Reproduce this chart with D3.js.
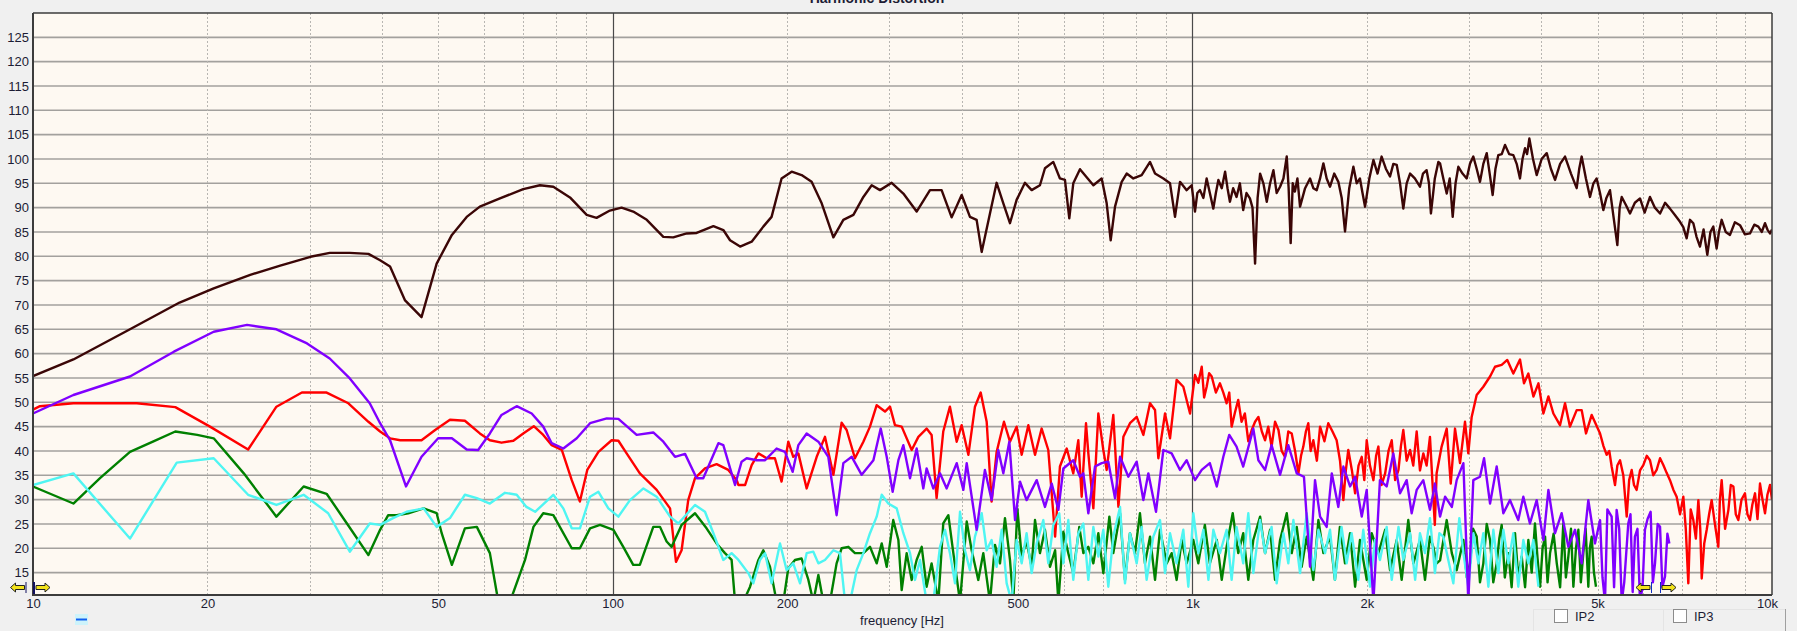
<!DOCTYPE html>
<html><head><meta charset="utf-8">
<script src="https://cdn.jsdelivr.net/npm/d3@7"></script>
<style>
html,body{margin:0;padding:0;background:#f0f0f0;}
svg{display:block;font-family:"Liberation Sans",Arial,sans-serif;}
</style></head>
<body>
<svg id="chart" width="1797" height="631"></svg>
<script>
// ---------- data (frequency [Hz], level [dB]) ----------
const yTicks = [15,20,25,30,35,40,45,50,55,60,65,70,75,80,85,90,95,100,105,110,115,120,125];
const xTickValues = [10,20,50,100,200,500,1000,2000,5000,10000];
const xTickLabels = ["10","20","50","100","200","500","1k","2k","5k","10k"];
const xGridMinor = [20,30,40,50,60,70,80,90,200,300,400,500,600,700,800,900,2000,3000,4000,5000,6000,7000,8000,9000];
const xGridMajor = [100,1000];

const fundamental = [[10,55.4],[11.74,58.8],[14.7,65],[17.9,70.5],[20.5,73.4],[23.7,76.2],[26.7,78.1],[30.1,79.9],[32.5,80.7],[35.2,80.7],[37.9,80.5],[39.7,79.2],[41.3,77.9],[43.8,71],[46.8,67.5],[49.7,78.5],[52.8,84.4],[56,88.1],[59,90.2],[63.9,91.9],[70.1,93.8],[74.9,94.6],[79,94.3],[84.4,92.1],[90.2,88.5],[93.8,87.9],[98.9,89.4],[103.6,90],[108.5,89.2],[114.5,87.5],[122.3,84],[127.2,83.9],[134.2,84.7],[139.6,84.8],[149.2,86.2],[155.2,85.4],[159.4,83.3],[165.9,82],[173.7,83],[181.9,86.1],[188,88.1],[195.6,96],[203.6,97.4],[211.8,96.7],[220.4,95.3],[229.4,90.9],[240.3,83.9],[250,87.5],[260.2,88.5],[270.7,92.2],[279.8,94.6],[289.2,93.6],[302.9,95.1],[317.3,92.9],[334.5,89.2],[352.7,93.6],[369.4,93.6],[384.4,88],[400,92.6],[413.4,88.1],[424.5,87.5],[433.1,80.9],[447.6,88.8],[459.6,95.1],[472,90.9],[484.6,86.8],[497.6,91.6],[514.3,95.1],[528.2,93.6],[545.9,94.6],[556.9,98.1],[575.6,99.4],[591,96],[602.9,95.7],[613.4,87.8],[623.2,95],[640,97.9],[674.9,94.6],[697.6,96],[711.6,90.9],[723,83.3],[735.6,90.2],[755.3,95.3],[770.4,97],[791,96],[817.7,96.7],[845.3,99.4],[862.3,97],[891.3,96],[915.2,95],[933.5,88.1],[952.2,95.3],[977.7,93.6],[997.3,94.6],[1010.6,89.2],[1020,93],[1030.9,93.6],[1045,92],[1058.5,96],[1072,93],[1087,89.8],[1098,93],[1109,95.7],[1124,94],[1139,97.4],[1150,94],[1161,91.2],[1176,94],[1192,92.2],[1208,95],[1224,89.5],[1240,93],[1257,91.9],[1270,90],[1283,78.5],[1296,92],[1309,97],[1326,95],[1344,91.2],[1362,95],[1380,97.7],[1398,93],[1417,94.3],[1436,96],[1455,100.5],[1466,94],[1478,82.7],[1490,95],[1503,93.3],[1518,96],[1534,90.2],[1565,94],[1596,96],[1617,94],[1639,93.6],[1661,96],[1683,99.1],[1705,96],[1728,94.3],[1757,97],[1786,95.3],[1810,92],[1834,85.1],[1865,94],[1896,98.4],[1921,95],[1946,96],[1966,93],[1986,90.2],[2020,96],[2053,99.8],[2087,97],[2121,100.5],[2157,98],[2193,96.4],[2222,99],[2252,98.8],[2282,95],[2312,89.8],[2343,95],[2375,97],[2420,96],[2470,94.3],[2500,97],[2536,97.7],[2560,95],[2580,88.8],[2620,96],[2657,99.4],[2675,99.1],[2710,96],[2747,92.9],[2780,96],[2813,88.1],[2845,95],[2877,98.4],[2925,97],[2974,96],[3013,99],[3053,100.5],[3094,98],[3135,95.3],[3177,99],[3220,101.2],[3258,97],[3297,92.6],[3334,98],[3372,100.8],[3418,101],[3463,102.9],[3520,101],[3579,100.8],[3627,99],[3675,96],[3712,100],[3749,102.2],[3780,101],[3814,104.2],[3870,100],[3927,96.7],[4005,100],[4087,101.2],[4155,98],[4224,95.7],[4310,99],[4395,100.5],[4500,97],[4603,94],[4650,98],[4695,100.5],[4775,96],[4853,92.2],[4920,95],[4983,96],[5050,93],[5117,89.5],[5180,92],[5254,93.6],[5330,88],[5410,82.3],[5460,90],[5505,92.2],[5600,90.5],[5689,88.8],[5800,91],[5920,91.9],[6030,89],[6159,92.2],[6280,90],[6410,88.8],[6540,91],[6668,89.8],[6800,88.5],[6939,87.1],[7030,86],[7125,83.7],[7220,87.5],[7316,86.8],[7410,84],[7512,82],[7620,85.5],[7734,80.3],[7830,85],[7921,86.1],[8025,81.6],[8100,85],[8188,87.5],[8320,85],[8463,84.4],[8630,87],[8806,86.4],[8980,84.5],[9163,84.7],[9320,86.5],[9472,86.1],[9600,85],[9726,86.8],[9820,85.5],[9920,84.7],[10000,85.5]];

const purpleHarmonic = [[10,47.7],[11.74,51.5],[14.7,55.3],[17.5,60.4],[20.5,64.5],[23.4,65.9],[26.3,65],[29.7,62.1],[32.5,59],[35.2,54.9],[38.1,49.8],[39.7,45.7],[41.3,42.2],[44,32.7],[46.8,38.8],[50,42.6],[52.8,42.6],[56,40.3],[58.6,40.2],[61.4,43.6],[64.3,47.4],[68.3,49.2],[72.5,47.7],[75.9,45],[78.5,41.6],[82.2,40.5],[86.7,42.6],[91.4,45.7],[97.7,46.7],[102.3,46.6],[110,43.3],[117.5,43.8],[122.3,41.9],[128.1,38.8],[133.3,39.4],[139.6,34.4],[143.3,34.4],[152.2,41.6],[155.2,41.2],[162.6,33],[166.9,37.8],[170.3,38.5],[177.2,38.1],[183.2,38.1],[191.8,40.5],[198.3,39.8],[204.4,35.7],[209.1,41.2],[216.1,43.6],[226.4,41.9],[235.5,38.8],[243.4,26.8],[250,37.5],[258.5,38.8],[268.9,35.1],[281.7,38.1],[290,44.6],[297,38.8],[304.1,31.6],[311.1,38.1],[317.3,41.2],[325.8,34.4],[334.5,40.5],[343.5,32.3],[348,36.4],[357.4,32.3],[367,35.4],[376.9,32.3],[392.2,37.5],[402.7,32],[408.1,37.5],[424.5,23.8],[438.7,36.1],[450.5,29.9],[462.6,40.2],[472,35.4],[483.4,41.9],[494.5,25.8],[504.4,33.7],[517.7,29.9],[538.9,34],[556.9,28.5],[572,33.3],[587.4,27.9],[599.1,36.4],[623.2,38.1],[640,34.7],[648.6,35.4],[661.6,27.2],[679.4,36.8],[697.6,37.5],[716.2,37.8],[735.6,30.3],[750.4,38.8],[775.6,34.7],[801.7,37.8],[823.2,29.9],[839.7,35.4],[865.6,27.5],[891.3,40.2],[921.1,39.5],[952.2,36.1],[977.7,38.1],[1010.6,34],[1038,36.1],[1072,37.5],[1102,32.7],[1131,38.8],[1158,43.3],[1192,40.9],[1224,36.8],[1274,44.6],[1300,38.1],[1335,36.1],[1370,41.2],[1417,35.1],[1464,41.2],[1514,35.4],[1558,34.7],[1596,16.2],[1628,34],[1661,26.5],[1705,24.4],[1740,35.4],[1786,28.5],[1822,36.8],[1871,32.7],[1909,34.7],[1960,26.5],[1999,32],[2053,9],[2107,34],[2164,32.7],[2222,39.5],[2282,31.3],[2343,34],[2390,27.2],[2438,32],[2503,34],[2570,27.9],[2604,31.3],[2621,33.3],[2675,26.5],[2729,30.6],[2803,28.5],[2858,34],[2935,37.5],[2993,9],[3053,34],[3135,34.7],[3186,38.5],[3263,29.2],[3350,36.8],[3440,27.2],[3532,29.9],[3650,25.8],[3724,30.6],[3823,25.1],[3927,29.9],[4033,21.7],[4114,32],[4224,23.1],[4336,27.2],[4453,20.3],[4573,23.8],[4695,16.9],[4821,29.9],[4950,21],[5051,25.8],[5100,14],[5151,9],[5200,28],[5289,26.5],[5340,12],[5395,27.9],[5450,24],[5505,9],[5560,13],[5650,25.1],[5700,27],[5750,11],[5801,22.4],[5860,24],[5920,9],[5980,12],[6037,23.8],[6100,26],[6175,27.5],[6230,13],[6283,16.9],[6350,25],[6410,24.4],[6470,12],[6538,14.2],[6600,23],[6651,21]];

const redHarmonic = [[10,48.5],[10.28,49.2],[11.74,49.8],[15.1,49.8],[17.6,49],[20.2,45],[23.5,40.3],[26.3,49.1],[29.1,52],[32.1,52],[35,49.8],[37.9,46],[39.7,44],[41.3,42.6],[43,42.2],[46.8,42.2],[49.4,44.3],[52.4,46.4],[55.6,46.2],[59,43.6],[61.4,42.2],[64.3,41.7],[67.4,42.1],[70.1,43.6],[73.1,45.1],[75.9,43.3],[78.5,41.2],[81.7,40.2],[85,34],[87.8,29.6],[90.4,36.1],[94.5,39.8],[99.6,42.2],[102.3,42.1],[105.7,39.5],[111.4,35.4],[119.1,32],[125.6,28.2],[128.6,17.2],[131.5,19.6],[135,29.9],[138.7,34.4],[144.3,36.4],[151.1,37.3],[158.3,36.1],[163.7,34],[164.8,33],[169.2,33],[173.7,37.1],[178.4,39.5],[184.4,38.5],[190.5,38.5],[195.6,33.7],[200.9,41.9],[204.9,38.8],[209.1,39.5],[216.1,32.3],[224.9,38.8],[232.4,42.9],[240.3,35.1],[248.3,45.8],[253.3,44.3],[261.8,38.5],[270.7,41.9],[277.9,45],[285.4,49.4],[295,48.1],[300.9,49.1],[306.9,45.3],[315.2,45],[328,40.2],[336.8,42.9],[348,44.6],[355,43.3],[362.1,30.3],[371.8,44],[381.8,49.1],[392.2,41.9],[400,45.3],[410.8,39.2],[421.7,49.1],[431.4,52],[441.8,46],[450.5,29.6],[459.6,39.8],[473.2,46],[484.6,41.9],[497.6,45],[507.7,39.2],[521.3,45.3],[535.3,39.2],[549.6,44.6],[564.3,40.2],[579.8,22.4],[591,36.8],[607.2,40.5],[623.2,35.4],[635.8,42.2],[644.3,30.6],[655.5,45.7],[661.6,39.5],[674.9,28.2],[688.4,47.7],[702.2,40.2],[711.6,36.1],[730.6,47.4],[745.6,28.5],[760.4,42.9],[780.6,45.7],[801.7,47],[823.2,43.3],[845.3,49.8],[862.3,48.4],[873.7,38.5],[897.2,47.7],[915.2,42.6],[939.6,54.6],[964.8,53.2],[990.9,47.7],[1010.6,55.6],[1024,54],[1038,57.3],[1048,51],[1058.5,53.2],[1069,56],[1080,55.3],[1098,52],[1116,53.9],[1131,52],[1146,49.8],[1158,52],[1169,45],[1185,48],[1200,50.5],[1216,46],[1232,47.7],[1249,42],[1266,44.3],[1283,46],[1300,47],[1318,44],[1335,42.2],[1352,45],[1370,40.9],[1389,46],[1408,44.3],[1426,40],[1445,38.8],[1464,44],[1484,43.6],[1504,40],[1524,35.4],[1540,39],[1554,40.9],[1570,44],[1585,45.7],[1600,40],[1617,42.2],[1640,38],[1661,45],[1690,42],[1716,45.7],[1745,44],[1774,42.2],[1798,38],[1822,29.9],[1840,36],[1858,40.2],[1885,36],[1909,31.3],[1935,37],[1960,38.8],[1980,34],[1999,42.2],[2025,37],[2053,34],[2075,39],[2094,40.9],[2120,33],[2151,35.4],[2180,40],[2208,42.2],[2238,34],[2268,36.1],[2290,41],[2312,44.3],[2343,38],[2375,40.2],[2405,37],[2438,44],[2470,36],[2503,39.5],[2536,37],[2570,42.9],[2620,24.8],[2639,35.4],[2692,40.9],[2747,44.6],[2791,33.3],[2839,44.6],[2896,37.5],[2954,46],[2993,39.5],[3033,47],[3094,51.5],[3177,53.2],[3263,55.3],[3328,57.3],[3417,57.7],[3494,58.7],[3579,55.9],[3675,58.8],[3734,53.9],[3799,55.9],[3876,51.2],[3954,53.9],[4033,47.7],[4114,51.2],[4196,47.7],[4308,45.3],[4395,49.8],[4482,45],[4603,48.4],[4695,48.4],[4777,43.6],[4886,47.4],[5051,43.6],[5120,41],[5185,39.2],[5240,40],[5289,36.8],[5360,33],[5410,37],[5468,38.1],[5540,35],[5615,26.5],[5670,34],[5727,36.1],[5780,33],[5841,32],[5920,36],[5998,37.1],[6080,39],[6159,38.1],[6240,35],[6324,36.1],[6410,38.5],[6494,37.1],[6580,35.5],[6668,34],[6760,32],[6847,30.6],[6940,27],[7031,30.6],[7100,24],[7172,12.8],[7240,28],[7316,25.8],[7390,22],[7464,29.9],[7520,24],[7564,13.8],[7640,21],[7715,23.8],[7790,27],[7869,29.9],[7970,25],[8080,20.3],[8130,30],[8188,34],[8300,24],[8410,27.9],[8490,33],[8578,32.7],[8660,27],[8748,25.8],[8860,30],[8982,31.3],[9070,27],[9163,25.8],[9250,29],[9348,31.3],[9440,26],[9535,33.3],[9630,30],[9726,27.2],[9820,31],[9920,33],[10000,30]];

const greenHarmonic = [[10,32.7],[11.74,29.2],[13.05,34.4],[14.7,39.8],[16.1,41.9],[17.6,44],[19.2,43.3],[20.5,42.6],[23.1,35.4],[26.3,26.5],[29.3,32.7],[32.1,31.2],[34.8,25.1],[37.9,18.6],[39.7,23.8],[41,26.8],[42.4,26.8],[44.4,27.2],[47.2,28.2],[49.7,27.2],[50.7,23.1],[52.8,16.6],[55.6,24.1],[58.3,24.4],[61.4,19],[63.5,9],[66.5,9],[70.6,17.6],[73,24.4],[75.9,27.2],[79,26.8],[85,20],[87.8,20],[91.4,24.1],[95.1,24.8],[100.3,23.8],[104.3,20.3],[108.5,16.6],[111.4,16.6],[117.5,24.4],[120.7,24.4],[123.9,21.4],[126.4,20.3],[131.5,24.8],[138.7,27.2],[145.2,24.1],[151.1,21],[156.2,19],[160.4,17.6],[162.6,9],[168,9],[172.6,12.1],[178.4,17.6],[181.9,19.6],[186.8,16.2],[191.8,9],[197,9],[200.9,15.9],[206.3,17.6],[211.8,17.9],[217.6,13.5],[221.9,9],[226.4,14.5],[230.9,9],[237.1,9],[243.4,16.9],[248.3,20],[255,20.3],[261.8,19],[270.7,19],[277.9,20.3],[285.4,16.9],[291.2,21],[297,16.2],[304.8,25.8],[311.1,21.7],[315.2,11.4],[321.5,19],[328,13.5],[334.5,17.6],[341.3,20.3],[348,12.1],[355,16.9],[364.6,9],[371.8,25.1],[379.4,26.8],[387,19],[397.4,9],[408.1,25.5],[416.2,19.6],[427.3,13.5],[435.9,19],[447.6,9],[456.6,20.7],[465.8,16.9],[475.1,26.2],[484.6,17.6],[491.1,9],[499,28.2],[507.7,18.3],[517.7,21.4],[528.2,16.2],[535.3,25.8],[545.9,19],[556.9,23.8],[568.1,16.2],[579.8,19.6],[587.4,9],[599.1,23.4],[611,19],[623.2,14.9],[638.3,24.4],[648.6,19],[661.6,20.3],[674.9,16.9],[688.4,23.1],[702.2,14.9],[719.2,26.5],[730.6,19],[750.4,27.2],[765.3,13.5],[780.6,23.1],[796.2,19],[812.2,27.2],[828.5,16.9],[845.3,22.4],[862.3,13.5],[879.5,23.8],[903.1,16.9],[921.1,19],[939.6,13.5],[958.6,21.7],[977.7,16.9],[1004,21.7],[1024,16.9],[1051,24.8],[1072,16.9],[1102,21.7],[1124,13.5],[1146,20.3],[1174,27.2],[1200,19],[1224,23.1],[1249,13.5],[1274,21.7],[1309,26.5],[1335,19],[1362,23.8],[1389,13.5],[1417,21.7],[1455,27.2],[1484,19],[1514,24.4],[1544,16.2],[1575,22.4],[1617,13.5],[1650,25.8],[1683,19],[1728,22.4],[1762,13.5],[1797,24.4],[1834,16.9],[1871,23.1],[1909,12.1],[1946,21.7],[1999,13.5],[2039,23.1],[2094,19],[2151,23.8],[2193,15.5],[2252,21.7],[2297,13.5],[2358,25.8],[2406,16.9],[2470,21.7],[2520,13.5],[2570,22.4],[2604,20.3],[2639,16.9],[2675,17.5],[2747,25.8],[2803,19],[2858,15.5],[2935,21.7],[2975,14],[3013,16.9],[3050,24],[3094,22.4],[3135,13],[3177,16.9],[3220,25],[3263,21.7],[3305,13],[3350,16.9],[3385,22],[3417,24.8],[3460,14],[3509,19],[3555,12],[3603,23.1],[3650,14],[3700,18.3],[3750,12],[3799,21.7],[3850,15],[3900,25.1],[3940,18],[3980,12.1],[4020,20],[4060,22.4],[4100,13],[4141,19],[4200,23],[4253,16.9],[4310,12],[4365,25.1],[4410,14],[4453,18.3],[4500,24],[4543,12.1],[4590,20],[4634,23.8],[4680,13],[4726,19],[4770,24],[4821,12.1],[4850,20],[4886,22.4],[4930,15],[4970,12.1]];

const cyanHarmonic = [[10,33],[11.74,35.4],[14.7,22],[17.7,37.6],[20.5,38.5],[23.5,31],[26.3,28.9],[29.3,31],[32.3,27.2],[35.2,19.3],[38.1,25.1],[39.7,24.8],[41.8,26.2],[44.1,27.5],[47.2,28.2],[49.7,24.4],[52.4,26.2],[55.6,31],[58.3,30.3],[61.4,29.2],[65.2,31.4],[68.3,31],[71,28.5],[73.5,27.5],[79,31],[82.2,28.2],[85,24.1],[87.8,24.1],[91.4,30.6],[94.5,31.6],[98.3,28.2],[102.3,26.5],[107.1,29.9],[113,32.3],[119.1,30.6],[125.6,26.5],[129.8,25.1],[138.7,28.9],[144.3,27.5],[149.2,23.1],[155.2,17.6],[160.4,19],[164.8,17.6],[171.4,14.9],[174.8,12.8],[179.5,17.6],[183.2,19],[188,12.8],[194.4,21],[199.6,15.5],[204.9,16.9],[210.5,12.8],[216.1,19],[221.9,19.3],[226.4,16.9],[232.4,17.6],[240.3,19.6],[246.7,19],[251.7,9],[256.7,9],[263.6,15.5],[270.7,19],[277.9,23.1],[285.4,26.5],[291.2,31],[298.9,29.2],[309,28.2],[317.3,23.1],[325.8,19],[332.3,13.5],[339,17.6],[348,9],[357.4,9],[367,20.3],[374.4,23.8],[381.8,19],[389.6,12.8],[397.4,27.5],[405.3,19.6],[413.4,15.5],[421.7,22.4],[433.1,27.2],[441.8,19.6],[450.5,21.7],[459.6,16.2],[468.9,23.8],[478.3,12.8],[487.9,9],[497.6,21.7],[507.7,16.9],[517.7,23.1],[528.2,14.9],[538.9,21],[553.3,25.8],[564.3,16.9],[575.6,24.8],[589.5,27.2],[599.1,16.9],[611,25.8],[623.2,13.5],[635.8,23.1],[648.6,25.1],[661.6,13.5],[674.9,24.4],[688.4,18.3],[702.2,23.8],[716.2,12.1],[730.6,22.4],[750.4,28.5],[765.3,12.8],[780.6,23.1],[801.7,16.9],[817.7,24.4],[834,13.5],[856.4,22.4],[879.5,25.8],[897.2,14.9],[915.2,23.1],[939.6,16.9],[964.8,23.8],[984.2,12.1],[1004,27.2],[1024,19],[1045,23.8],[1066,13.5],[1087,23.8],[1116,19],[1146,23.8],[1169,13.5],[1192,24.4],[1224,16.9],[1249,27.2],[1274,14.9],[1309,25.8],[1335,19],[1370,24.4],[1398,12.8],[1436,23.1],[1464,16.9],[1494,25.8],[1534,14.9],[1575,27.2],[1617,15.5],[1650,23.8],[1694,19],[1728,23.8],[1762,13.5],[1809,24.4],[1846,16.9],[1883,23.1],[1933,13.5],[1972,23.8],[2025,12.1],[2066,21.7],[2107,17.6],[2164,24.4],[2208,13.5],[2268,24.4],[2312,17.6],[2375,23.1],[2423,13.5],[2470,23.1],[2520,19],[2570,26.2],[2604,19],[2621,14.9],[2668,23.1],[2710,22.4],[2764,17.6],[2820,12.8],[2888,26.2],[2935,19],[2993,12.1],[3053,23.1],[3115,16.9],[3177,23.1],[3241,12.1],[3306,23.8],[3372,14.9],[3440,23.8],[3509,16.9],[3579,23.1],[3650,12.1],[3724,21.7],[3799,16.9],[3876,21.7],[3954,12.1]];

// draw order and colours
const seriesList = [
  {name:"fundamental", data:fundamental, color:"#3b0606"},
  {name:"red", data:redHarmonic, color:"#ff0000"},
  {name:"green", data:greenHarmonic, color:"#008000"},
  {name:"cyan", data:cyanHarmonic, color:"#4ff5f2"},
  {name:"purple", data:purpleHarmonic, color:"#8000ff"}
];

// ---------- layout ----------
const W = 1797, H = 631;
const L = 33, R = 1772, T = 13, B = 595;
const svg = d3.select("#chart");

svg.append("rect").attr("width", W).attr("height", H).attr("fill", "#f0f0f0");

const x = d3.scaleLog().domain([10, 10000]).range([L, R]);
const y = d3.scaleLinear().domain([10.4, 130]).range([B, T]);

svg.append("rect").attr("x", L).attr("y", T).attr("width", R - L).attr("height", B - T).attr("fill", "#fef9f2");

svg.append("g").selectAll("line").data(yTicks).join("line")
  .attr("x1", L).attr("x2", R)
  .attr("y1", d => y(d)).attr("y2", d => y(d))
  .attr("stroke", "#a3a19e").attr("stroke-width", 1.6);

svg.append("g").selectAll("line").data(xGridMinor).join("line")
  .attr("x1", d => Math.round(x(d)) + 0.5).attr("x2", d => Math.round(x(d)) + 0.5)
  .attr("y1", T).attr("y2", B)
  .attr("stroke", "#b8b6b2").attr("stroke-width", 1).attr("stroke-dasharray", "2,2");

svg.append("g").selectAll("line").data(xGridMajor).join("line")
  .attr("x1", d => Math.round(x(d)) + 0.5).attr("x2", d => Math.round(x(d)) + 0.5)
  .attr("y1", T).attr("y2", B)
  .attr("stroke", "#4a4a4a").attr("stroke-width", 1.2);

svg.append("clipPath").attr("id", "plotclip").append("rect")
  .attr("x", L).attr("y", T).attr("width", R - L).attr("height", B - T);
const line = d3.line().x(d => x(d[0])).y(d => y(d[1]));
const curves = svg.append("g").attr("clip-path", "url(#plotclip)");
seriesList.forEach(s => {
  curves.append("path").datum(s.data)
    .attr("d", line)
    .attr("fill", "none")
    .attr("stroke", s.color)
    .attr("stroke-width", 2.4)
    .attr("stroke-linejoin", "round");
});

// frame
svg.append("line").attr("x1", L).attr("x2", R).attr("y1", T).attr("y2", T).attr("stroke", "#3c3c3c").attr("stroke-width", 1.5);
svg.append("line").attr("x1", R).attr("x2", R).attr("y1", T).attr("y2", B).attr("stroke", "#3c3c3c").attr("stroke-width", 1.5);
svg.append("line").attr("x1", L).attr("x2", L).attr("y1", T).attr("y2", B + 1).attr("stroke", "#3c3c3c").attr("stroke-width", 2);
svg.append("line").attr("x1", L - 1).attr("x2", R).attr("y1", B).attr("y2", B).attr("stroke", "#3c3c3c").attr("stroke-width", 2);

// y axis labels
const yAxis = d3.axisLeft(y).tickValues(yTicks).tickSize(0).tickPadding(4);
const gy = svg.append("g").attr("transform", `translate(${L},0)`).call(yAxis);
gy.select(".domain").remove();
gy.selectAll("text").attr("font-size", 13).attr("fill", "#1c1c34")
  .attr("font-family", "'Liberation Sans', Arial, sans-serif");

// x axis labels
const xAxis = d3.axisBottom(x).tickValues(xTickValues)
  .tickFormat((d, i) => xTickLabels[i]).tickSize(0).tickPadding(4);
const gx = svg.append("g").attr("transform", `translate(0,${B})`).call(xAxis);
gx.select(".domain").remove();
gx.selectAll("text").attr("font-size", 13).attr("fill", "#1c1c34")
  .attr("font-family", "'Liberation Sans', Arial, sans-serif");
gx.selectAll(".tick").filter(d => d === 10000).select("text").attr("dx", -5);

// title (partly hidden at the top edge, as in the reference)
svg.append("text").attr("x", 877).attr("y", 3).attr("text-anchor", "middle")
  .attr("font-size", 14).attr("font-weight", "bold").attr("fill", "#1c1c34")
  .text("Harmonic Distortion");

svg.append("text").attr("x", 902).attr("y", 625).attr("text-anchor", "middle")
  .attr("font-size", 13).attr("fill", "#1c1c34").text("frequency [Hz]");

svg.append("rect").attr("x", 75).attr("y", 614).attr("width", 13).attr("height", 11).attr("fill", "#cdf3fb");
svg.append("line").attr("x1", 76).attr("x2", 87).attr("y1", 619.5).attr("y2", 619.5).attr("stroke", "#1060f0").attr("stroke-width", 2);

function arrow(g, cx, cy, dir) {
  const p = dir < 0
    ? `M${cx-7},${cy} L${cx-2},${cy-4.5} L${cx-2},${cy-2} L${cx+7},${cy-2} L${cx+7},${cy+2} L${cx-2},${cy+2} L${cx-2},${cy+4.5} Z`
    : `M${cx+7},${cy} L${cx+2},${cy-4.5} L${cx+2},${cy-2} L${cx-7},${cy-2} L${cx-7},${cy+2} L${cx+2},${cy+2} L${cx+2},${cy+4.5} Z`;
  g.append("path").attr("d", p).attr("fill", "#f2e21a").attr("stroke", "#222").attr("stroke-width", 1);
}
const mk = svg.append("g");
arrow(mk, 17.5, 587.5, -1);
mk.append("line").attr("x1", 26).attr("x2", 26).attr("y1", 582).attr("y2", 593).attr("stroke", "#101060").attr("stroke-width", 1);
mk.append("line").attr("x1", 34).attr("x2", 34).attr("y1", 582).attr("y2", 594).attr("stroke", "#101060").attr("stroke-width", 2);
arrow(mk, 43, 587.5, 1);
arrow(mk, 1643, 587.5, -1);
mk.append("line").attr("x1", 1651.5).attr("x2", 1651.5).attr("y1", 582).attr("y2", 593).attr("stroke", "#1030c0").attr("stroke-width", 1);
mk.append("line").attr("x1", 1660.5).attr("x2", 1660.5).attr("y1", 582).attr("y2", 593).attr("stroke", "#1030c0").attr("stroke-width", 1);
arrow(mk, 1669, 587.5, 1);

const cb = svg.append("g");
cb.append("line").attr("x1", 1533).attr("x2", 1785).attr("y1", 609.5).attr("y2", 609.5).attr("stroke", "#e4e4e4");
cb.append("line").attr("x1", 1533.5).attr("x2", 1533.5).attr("y1", 609).attr("y2", 631).attr("stroke", "#e4e4e4");
cb.append("line").attr("x1", 1663.5).attr("x2", 1663.5).attr("y1", 609).attr("y2", 631).attr("stroke", "#e4e4e4");
cb.append("line").attr("x1", 1785.5).attr("x2", 1785.5).attr("y1", 609).attr("y2", 631).attr("stroke", "#a0a0a0");
[[1554, "IP2"], [1673, "IP3"]].forEach(([bx, lab]) => {
  cb.append("rect").attr("x", bx + 0.5).attr("y", 609.5).attr("width", 13).attr("height", 13)
    .attr("fill", "#ffffff").attr("stroke", "#8c8c8c");
  cb.append("text").attr("x", bx + 21).attr("y", 621).attr("font-size", 13).attr("fill", "#1c1c34").text(lab);
});
</script>
</body></html>
